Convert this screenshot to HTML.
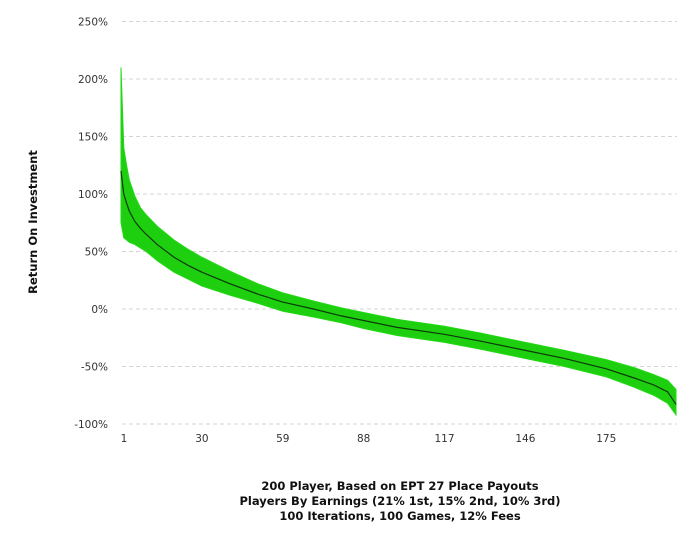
<!DOCTYPE html>
<html><head><meta charset="utf-8"><style>
body{margin:0;background:#fff;width:700px;height:538px;overflow:hidden;font-family:"Liberation Sans",Verdana,sans-serif}
svg text{font-family:"DejaVu Sans","Liberation Sans",sans-serif}
</style></head><body>
<svg id="chart" width="700" height="538" xmlns="http://www.w3.org/2000/svg">
<g id="grid"></g>
<g id="yticks"></g>
<g id="xticks"></g>
<path id="band" fill="#1ecf0f" stroke="#22d814" stroke-width="1"></path>
<polyline id="meanline" fill="none" stroke="#0b3a08" stroke-width="1.2"></polyline>
<text transform="translate(37,222) rotate(-90)" text-anchor="middle" font-size="11.5" font-weight="bold" fill="#111">Return On Investment</text>
<g font-size="11.5" font-weight="bold" fill="#111" text-anchor="middle">
<text x="400" y="490">200 Player, Based on EPT 27 Place Payouts</text>
<text x="400" y="505">Players By Earnings (21% 1st, 15% 2nd, 10% 3rd)</text>
<text x="400" y="520">100 Iterations, 100 Games, 12% Fees</text>
</g>
</svg>
<script>
const yTicks=[250,200,150,100,50,0,-50,-100];
const xTicks=[1,30,59,88,117,146,175];
const players=[1,2,3,4,6,8,10,14,20,25,30,40,50,59,70,80,88,100,117,130,146,160,175,185,192,197,200];
const meanRoi=[120,100,92,85,76,70,65,56,45,38,32,22,13,6,0,-6,-10,-16,-22,-28,-36,-43,-52,-60,-66,-72,-83];
const upperRoi=[210,140,125,112,98,88,82,72,60,52,45,33,22,14,7,1,-3,-9,-15,-21,-29,-36,-44,-51,-57,-62,-70];
const lowerRoi=[75,62,60,58,56,53,50,42,32,26,20,12,5,-2,-7,-12,-17,-23,-29,-35,-43,-50,-59,-68,-75,-82,-92];
const X=p=>121+(p-1)*(676-121)/199;
const Y=v=>309-v*(309-194)/100;
const ns="http://www.w3.org/2000/svg";
const grid=document.getElementById('grid'),yt=document.getElementById('yticks'),xt=document.getElementById('xticks');
yTicks.forEach(v=>{
 const l=document.createElementNS(ns,'line');
 
 
 l.setAttribute('x1',122);l.setAttribute('x2',677);l.setAttribute('y1',Y(v));l.setAttribute('y2',Y(v));
 l.setAttribute('stroke','#d4d4d4');l.setAttribute('stroke-dasharray','4,3');grid.appendChild(l);
 const t=document.createElementNS(ns,'text');
 
 
 t.setAttribute('x',108);t.setAttribute('y',Y(v)+4);t.setAttribute('text-anchor','end');t.setAttribute('font-size','10.5');t.setAttribute('fill','#333');
 t.textContent=v+'%';yt.appendChild(t);
});
xTicks.forEach(p=>{
 const t=document.createElementNS(ns,'text');
 
 
 t.setAttribute('x',X(p)+(p===1?3:0));t.setAttribute('y',442);t.setAttribute('text-anchor','middle');t.setAttribute('font-size','10.5');t.setAttribute('fill','#333');
 t.textContent=p;xt.appendChild(t);
});
let d='M'+players.map((p,i)=>X(p)+','+Y(upperRoi[i])).join('L');
for(let i=players.length-1;i>=0;i--)d+='L'+X(players[i])+','+Y(lowerRoi[i]);
document.getElementById('band').setAttribute('d',d+'Z');
document.getElementById('meanline').setAttribute('points',players.map((p,i)=>X(p)+','+Y(meanRoi[i])).join(' '));
</script>
</body></html>
